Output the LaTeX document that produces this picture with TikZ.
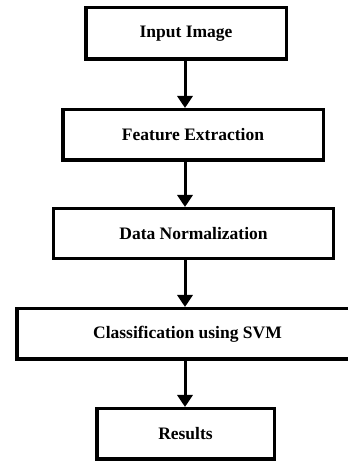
\documentclass[tikz,border=0pt]{standalone}
\usepackage{fontspec}
\setmainfont{Liberation Serif}
\usetikzlibrary{arrows.meta}
\begin{document}
\begin{tikzpicture}[x=1pt,y=1pt,
  stage/.style={draw=black,line width=3.5pt,fill=white,inner sep=0pt,
    font=\fontsize{17.5}{20}\selectfont\bfseries},
  flow/.style={line width=3pt,-{Triangle[width=15pt,length=12pt]}}]
  \useasboundingbox (0,0) rectangle (348,464);
  % boxes: centre x, centre y (from top), size
  \node[stage,minimum width=200.5pt,minimum height=51.5pt] (input) at (186,464-33.5) {Input Image};
  \node[stage,minimum width=260.5pt,minimum height=50.5pt] (feat) at (193,464-135) {Feature Extraction};
  \node[stage,line width=3pt,minimum width=280pt,minimum height=50pt] (norm) at (193.5,464-233.5) {Data Normalization};
  \node[stage,minimum width=341.5pt,minimum height=50.5pt] (svm) at (187.5,464-334) {Classification using SVM};
  \node[stage,minimum width=177.5pt,minimum height=50.5pt] (res) at (185.5,464-434) {Results};
  % connectors down the centre line
  \coordinate (axis) at (185,0);
  \draw[flow] (input.south -| axis) -- (feat.north -| axis);
  \draw[flow] (feat.south -| axis) -- (norm.north -| axis);
  \draw[flow] (norm.south -| axis) -- (svm.north -| axis);
  \draw[flow] (svm.south -| axis) -- (res.north -| axis);
\end{tikzpicture}
\end{document}
